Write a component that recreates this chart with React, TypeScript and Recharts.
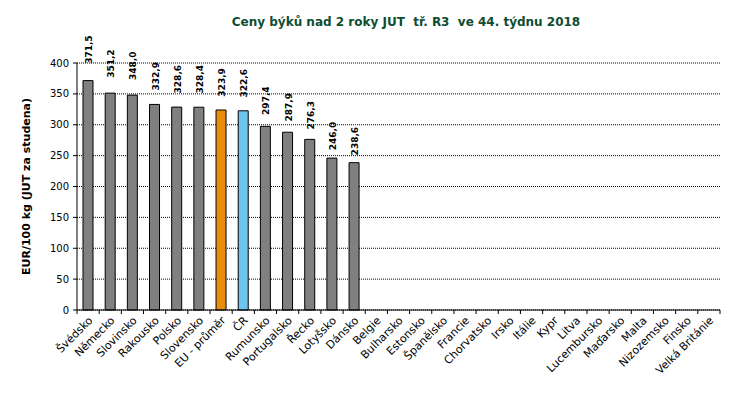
import React from 'react';
import { BarChart, Bar, XAxis, YAxis, CartesianGrid, Cell, LabelList } from 'recharts';

const categories = ['Švédsko', 'Německo', 'Slovinsko', 'Rakousko', 'Polsko', 'Slovensko', 'EU - průměr', 'ČR', 'Rumunsko', 'Portugalsko', 'Řecko', 'Lotyšsko', 'Dánsko', 'Belgie', 'Bulharsko', 'Estonsko', 'Španělsko', 'Francie', 'Chorvatsko', 'Irsko', 'Itálie', 'Kypr', 'Litva', 'Lucembursko', 'Maďarsko', 'Malta', 'Nizozemsko', 'Finsko', 'Velká Británie'];
const prices: (number | null)[] = [371.5, 351.2, 348.0, 332.9, 328.6, 328.4, 323.9, 322.6, 297.4, 287.9, 276.3, 246.0, 238.6, null, null, null, null, null, null, null, null, null, null, null, null, null, null, null, null];
const yTicks = [0, 50, 100, 150, 200, 250, 300, 350, 400];
const title = 'Ceny býků nad 2 roky JUT  tř. R3  ve 44. týdnu 2018';
const yLabel = 'EUR/100 kg (JUT za studena)';

const data = categories.map((c, i) => ({ name: c, value: prices[i] }));

const W = 734;
const H = 400;
const M = { top: 63, right: 14, bottom: 0, left: 0 };
const Y_W = 77;
const PLOT_W = W - M.left - M.right - Y_W;
const BAND = PLOT_W / categories.length;
const FONT = 'Verdana, "DejaVu Sans", sans-serif';

const barColor = (name: string) => (name === 'EU - průměr' ? '#E98E0C' : name === 'ČR' ? '#6DC4EE' : '#808080');

const XTick = (props: any) => {
  const { x, y, payload, index } = props;
  const last = index === categories.length - 1;
  return (
    <g>
      <line x1={x - BAND / 2} x2={x - BAND / 2} y1={y} y2={y + 4} stroke="#000" />
      {last && <line x1={x + BAND / 2} x2={x + BAND / 2} y1={y} y2={y + 4} stroke="#000" />}
      <text
        x={x + 3}
        y={y + 9}
        transform={`rotate(-45, ${x + 3}, ${y + 9})`}
        textAnchor="end"
        dominantBaseline="middle"
        fontSize={11}
        fontFamily={FONT}
        fill="#000"
      >
        {payload.value}
      </text>
    </g>
  );
};

const ValueLabel = (props: any) => {
  const { x, y, width, value } = props;
  if (value == null) return null;
  const cx = x + width / 2 + 1;
  // gap above the bar shrinks as bars get shorter, as in the source chart
  const gap = 26 - 0.115 * y;
  const ty = y - gap;
  return (
    <text
      x={cx}
      y={ty}
      transform={`rotate(-90, ${cx}, ${ty})`}
      textAnchor="start"
      dominantBaseline="central"
      fontSize={9}
      fontWeight="bold"
      fontFamily={FONT}
      fill="#000"
    >
      {Number(value).toFixed(1).replace('.', ',')}
    </text>
  );
};

export default function App() {
  return (
    <div style={{ position: 'absolute', left: 0, top: 0, width: W, height: H, background: '#fff' }}>
      <div
        style={{
          position: 'absolute',
          left: 0,
          width: W,
          top: 15,
          textAlign: 'center',
          paddingLeft: 78,
          boxSizing: 'border-box',
          fontFamily: FONT,
          fontWeight: 'bold',
          fontSize: 12,
          color: '#0E4D32',
          whiteSpace: 'pre',
        }}
      >
        {title}
      </div>
      <BarChart width={W} height={H} data={data} margin={M} barCategoryGap={0}>
        <CartesianGrid vertical={false} stroke="#000" strokeDasharray="1 1" />
        <XAxis
          dataKey="name"
          interval={0}
          height={90}
          tickSize={0}
          tickMargin={0}
          tickLine={false}
          axisLine={{ stroke: '#000' }}
          tick={<XTick />}
        />
        <YAxis
          width={Y_W}
          domain={[0, 400]}
          ticks={yTicks}
          interval={0}
          tickSize={4}
          tickMargin={4}
          axisLine={{ stroke: '#000' }}
          tickLine={{ stroke: '#000' }}
          tick={{ fontSize: 10, fontFamily: FONT, fill: '#000' }}
          label={{
            value: yLabel,
            angle: -90,
            position: 'insideLeft',
            offset: 26,
            style: { textAnchor: 'middle', fontSize: 11, fontWeight: 'bold', fontFamily: FONT, fill: '#000' },
          }}
        />
        <Bar dataKey="value" barSize={10} stroke="#000" strokeWidth={1} isAnimationActive={false}>
          {data.map((d, i) => (
            <Cell key={i} fill={barColor(d.name)} />
          ))}
          <LabelList dataKey="value" content={<ValueLabel />} />
        </Bar>
      </BarChart>
    </div>
  );
}
